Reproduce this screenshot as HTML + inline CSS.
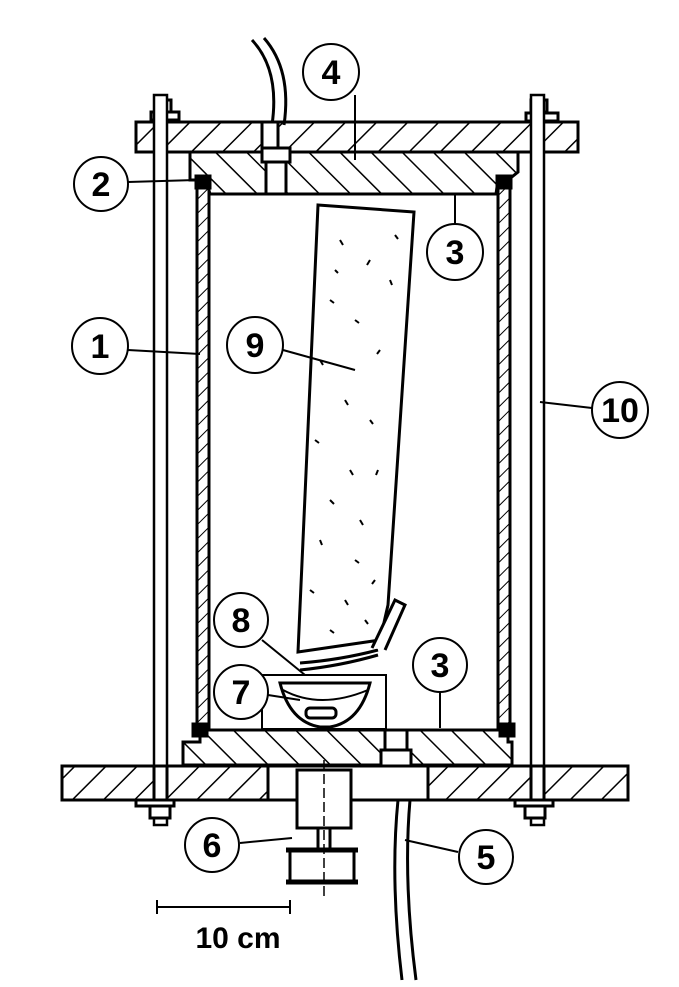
<!DOCTYPE html>
<html><head><style>html,body{margin:0;padding:0;background:#fff}svg{display:block}</style></head><body>
<svg width="679" height="987" viewBox="0 0 679 987" xmlns="http://www.w3.org/2000/svg">
<defs>
<pattern id="h1" width="22" height="22" patternUnits="userSpaceOnUse" patternTransform="rotate(45)"><line x1="0" y1="0" x2="0" y2="22" stroke="#000" stroke-width="3"/></pattern>
<pattern id="h2" width="22" height="22" patternUnits="userSpaceOnUse" patternTransform="rotate(-45)"><line x1="0" y1="0" x2="0" y2="22" stroke="#000" stroke-width="3"/></pattern>
<pattern id="h3" width="10" height="10" patternUnits="userSpaceOnUse" patternTransform="rotate(45)"><line x1="0" y1="0" x2="0" y2="10" stroke="#000" stroke-width="2"/></pattern>
</defs>
<g stroke="#000" stroke-width="3" fill="none">
<!-- cable 4 -->
<path d="M252 40 Q280 70 272 125" stroke-width="3"/><path d="M264 38 Q292 70 284 125"/>
<!-- top plate -->
<rect x="136" y="122" width="442" height="30" fill="url(#h1)"/>
<rect x="262" y="122" width="16" height="30" fill="#fff"/>
<rect x="151" y="112" width="28" height="8" fill="#fff"/><rect x="526" y="113" width="32" height="8" fill="#fff"/>
<rect x="155" y="100" width="16" height="12" fill="#fff"/><rect x="531" y="100" width="16" height="12" fill="#fff"/>
<!-- top cap -->
<path d="M190 152 H518 V172 L508 180 H498 L496 194 H210 L206 180 H190 Z" fill="url(#h2)"/>
<rect x="262" y="148" width="28" height="14" fill="#fff"/><rect x="266" y="162" width="20" height="32" fill="#fff"/>
<!-- walls -->
<rect x="197" y="185" width="12" height="542" fill="url(#h3)"/>
<rect x="498" y="185" width="12" height="542" fill="url(#h3)"/>
<rect x="196" y="176" width="14" height="12" fill="#000"/><rect x="497" y="176" width="14" height="12" fill="#000"/>
<rect x="193" y="724" width="14" height="12" fill="#000"/><rect x="500" y="724" width="14" height="12" fill="#000"/>
<!-- rods -->
<rect x="154" y="95" width="13" height="730" fill="#fff" stroke-width="2.5"/>
<rect x="531" y="95" width="13" height="730" fill="#fff" stroke-width="2.5"/>
<!-- bottom cap -->
<path d="M183 742 H200 V730 H508 V742 H512 V765 H183 Z" fill="url(#h2)"/>
<rect x="385" y="730" width="22" height="35" fill="#fff"/><rect x="381" y="750" width="30" height="20" fill="#fff"/>
<!-- base plate -->
<rect x="62" y="766" width="566" height="34" fill="url(#h1)"/>
<rect x="154" y="766" width="13" height="34" fill="#fff"/><rect x="531" y="766" width="13" height="34" fill="#fff"/>
<rect x="268" y="766" width="160" height="34" fill="#fff"/>
<line x1="268" y1="766" x2="268" y2="800"/><line x1="428" y1="766" x2="428" y2="800"/>
<line x1="62" y1="766" x2="628" y2="766"/><line x1="62" y1="800" x2="628" y2="800"/>
<rect x="136" y="800" width="38" height="6" fill="#fff"/><rect x="515" y="800" width="38" height="6" fill="#fff"/>
<rect x="150" y="806" width="20" height="12" fill="#fff"/><rect x="525" y="806" width="20" height="12" fill="#fff"/>
<!-- device 6 -->
<rect x="297" y="770" width="54" height="58" fill="#fff"/>
<line x1="318" y1="828" x2="318" y2="848"/><line x1="330" y1="828" x2="330" y2="848"/>
<rect x="290" y="850" width="64" height="32" fill="#fff"/>
<line x1="286" y1="850" x2="358" y2="850" stroke-width="5"/><line x1="286" y1="882" x2="358" y2="882" stroke-width="5"/>
<line x1="324" y1="760" x2="324" y2="900" stroke-width="1.5" stroke-dasharray="10 4"/>
<!-- cable 5 -->
<path d="M398 800 Q390 880 402 980"/><path d="M410 800 Q403 880 416 980"/>
<!-- sample 9 -->
<path d="M318 205 L414 212 L388 605 L380 640 L298 652 Z" fill="#fff"/>
<!-- bowl 7 area -->
<rect x="262" y="675" width="124" height="54" fill="#fff" stroke-width="2"/>
<path d="M280 683 H370 Q360 722 330 727 H320 Q290 722 280 683 Z" fill="#fff"/>
<path d="M283 690 Q320 710 368 690" stroke-width="2"/>
<rect x="306" y="708" width="30" height="10" rx="4"/>
<path d="M300 663 Q340 660 378 650" stroke-width="3"/><path d="M300 670 Q340 666 378 655"/>
<path d="M372 648 L395 600 L405 605 L385 650" fill="#fff"/>
</g>
<!-- specks -->
<g stroke="#000" stroke-width="2" fill="none">
<path d="M340 240 l3 5 M370 260 l-3 5 M330 300 l4 3 M390 280 l2 5 M355 320 l4 3 M320 360 l3 5 M380 350 l-3 4 M345 400 l3 5 M370 420 l3 4 M315 440 l4 3 M350 470 l3 5 M378 470 l-2 5 M330 500 l4 4 M360 520 l3 5 M320 540 l2 5 M355 560 l4 3 M310 590 l4 3 M345 600 l3 5 M375 580 l-3 4 M330 630 l4 3 M365 620 l3 4 M395 235 l3 4 M335 270 l3 3"/>
</g>
<!-- callouts -->
<g stroke="#000" stroke-width="2" fill="#fff">
<line x1="128" y1="350" x2="200" y2="354"/>
<line x1="128" y1="182" x2="196" y2="180"/>
<line x1="455" y1="224" x2="455" y2="194"/>
<line x1="355" y1="95" x2="355" y2="160"/>
<line x1="283" y1="350" x2="355" y2="370"/>
<line x1="592" y1="408" x2="540" y2="402"/>
<line x1="262" y1="640" x2="305" y2="675"/>
<line x1="268" y1="695" x2="300" y2="700"/>
<line x1="440" y1="692" x2="440" y2="728"/>
<line x1="240" y1="843" x2="292" y2="838"/>
<line x1="458" y1="852" x2="405" y2="840"/>
<circle cx="100" cy="346" r="28"/><circle cx="101" cy="184" r="27"/>
<circle cx="455" cy="252" r="28"/><circle cx="331" cy="72" r="28"/>
<circle cx="255" cy="345" r="28"/><circle cx="620" cy="410" r="28"/>
<circle cx="241" cy="620" r="27"/><circle cx="241" cy="692" r="27"/>
<circle cx="440" cy="665" r="27"/><circle cx="212" cy="845" r="27"/>
<circle cx="486" cy="857" r="27"/>
</g>
<g font-family="Liberation Sans, sans-serif" font-size="34" font-weight="bold" text-anchor="middle" fill="#000">
<text x="100" y="358">1</text><text x="101" y="196">2</text><text x="455" y="264">3</text>
<text x="331" y="84">4</text><text x="255" y="357">9</text><text x="620" y="422">10</text>
<text x="241" y="632">8</text><text x="241" y="704">7</text><text x="440" y="677">3</text>
<text x="212" y="857">6</text><text x="486" y="869">5</text>
</g>
<g stroke="#000" stroke-width="2"><line x1="157" y1="907" x2="290" y2="907"/><line x1="157" y1="900" x2="157" y2="914"/><line x1="290" y1="900" x2="290" y2="914"/></g>
<text x="238" y="948" font-family="Liberation Sans, sans-serif" font-size="30" font-weight="bold" text-anchor="middle">10 cm</text>
</svg>
</body></html>
